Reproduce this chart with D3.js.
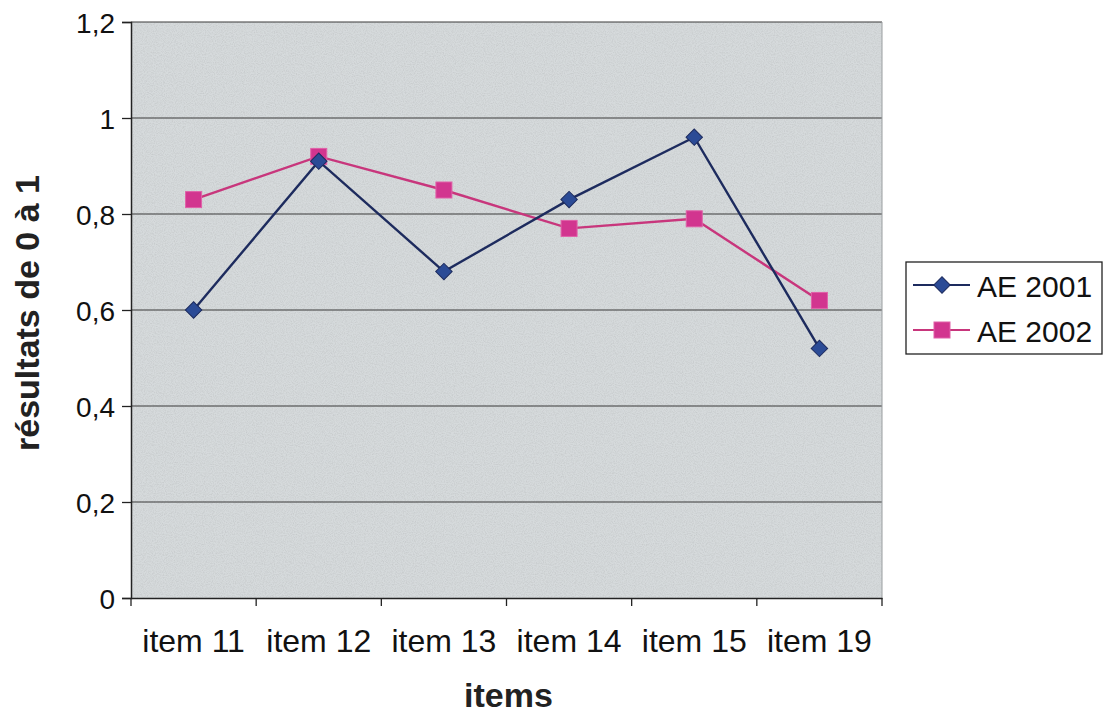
<!DOCTYPE html>
<html><head><meta charset="utf-8">
<script src="https://cdn.jsdelivr.net/npm/d3@7"></script>
<style>body{margin:0;background:#fff}svg{display:block}</style>
</head><body>
<svg id="c" width="1112" height="715"></svg>
<script>
const categories = ["item 11","item 12","item 13","item 14","item 15","item 19"];
const ae2001 = [0.60, 0.91, 0.68, 0.83, 0.96, 0.52];
const ae2002 = [0.83, 0.92, 0.85, 0.77, 0.79, 0.62];
const yTicks = [0, 0.2, 0.4, 0.6, 0.8, 1, 1.2];
const seriesNames = ["AE 2001", "AE 2002"];

const svg = d3.select("#c");
const L = 131, R = 882, T = 22, B = 598;
const font = "'Liberation Sans', Arial, sans-serif";

const x = d3.scaleBand().domain(categories).range([L, R]).padding(0);
const y = d3.scaleLinear().domain([0, 1.2]).range([B, T]);

const defs = svg.append("defs");
const f = defs.append("filter").attr("id","noise").attr("x",0).attr("y",0).attr("width","100%").attr("height","100%");
f.append("feTurbulence").attr("type","fractalNoise").attr("baseFrequency",0.9).attr("numOctaves",2).attr("seed",3).attr("result","t");
f.append("feColorMatrix").attr("in","t").attr("type","matrix")
  .attr("values","0 0 0 0 0.55  0 0 0 0 0.57  0 0 0 0 0.58  0 0 0 -1.6 1.0").attr("result","n");
f.append("feComposite").attr("in","n").attr("in2","SourceGraphic").attr("operator","in").attr("result","m");
f.append("feMerge").selectAll("feMergeNode").data(["SourceGraphic","m"]).join("feMergeNode").attr("in",d=>d);

svg.append("rect").attr("x",L).attr("y",T).attr("width",R-L).attr("height",B-T)
  .attr("fill","#d6dadc").attr("filter","url(#noise)");

svg.append("g").selectAll("line").data(yTicks.filter(d=>d>0)).join("line")
  .attr("x1",L).attr("x2",R).attr("y1",d=>y(d)).attr("y2",d=>y(d))
  .attr("stroke","#3a3a3a").attr("stroke-width",1.2);
svg.append("line").attr("x1",R).attr("x2",R).attr("y1",T).attr("y2",B).attr("stroke","#9a9ea0").attr("stroke-width",1);

const yAxis = d3.axisLeft(y).tickValues(yTicks).tickSize(9).tickPadding(7)
  .tickFormat(d => String(d).replace(".", ","));
const gy = svg.append("g").attr("transform",`translate(${L},0)`).call(yAxis);
gy.select(".domain").attr("stroke","#222").attr("stroke-width",1.5);
gy.selectAll(".tick line").attr("stroke","#222").attr("stroke-width",1.3);
gy.selectAll("text").attr("font-family",font).attr("font-size",28).attr("fill","#111").attr("dy","0.36em");

const xAxis = d3.axisBottom(x).tickSize(0).tickPadding(0);
const gx = svg.append("g").attr("transform",`translate(0,${B})`).call(xAxis);
gx.select(".domain").attr("stroke","#222").attr("stroke-width",1.5);
gx.selectAll("text").attr("font-family",font).attr("font-size",32).attr("fill","#111")
  .attr("dy",null).attr("y",54);
const bounds = categories.map(c => x(c)).concat([R]);
svg.append("g").selectAll("line").data(bounds).join("line")
  .attr("x1",d=>d).attr("x2",d=>d).attr("y1",B).attr("y2",B+8)
  .attr("stroke","#222").attr("stroke-width",1.3);

const cx = c => x(c) + x.bandwidth()/2;
const line = d3.line().x(d=>cx(d.c)).y(d=>y(d.v));
const d2001 = categories.map((c,i)=>({c, v: ae2001[i]}));
const d2002 = categories.map((c,i)=>({c, v: ae2002[i]}));

const pink = "#c8367c", pinkM = "#d2358f", blue = "#1d2b5e", blueM = "#2b4b96";

svg.append("path").datum(d2002).attr("d",line).attr("fill","none").attr("stroke",pink).attr("stroke-width",2.4);
svg.append("path").datum(d2001).attr("d",line).attr("fill","none").attr("stroke",blue).attr("stroke-width",2.4);

svg.append("g").selectAll("rect").data(d2002).join("rect")
  .attr("x",d=>cx(d.c)-8).attr("y",d=>y(d.v)-8).attr("width",16).attr("height",16)
  .attr("fill",pinkM).attr("stroke","#e060a8").attr("stroke-width",1);
const diamond = d3.symbol().type(d3.symbolSquare).size(135);
svg.append("g").selectAll("path").data(d2001).join("path")
  .attr("d",diamond).attr("transform",d=>`translate(${cx(d.c)},${y(d.v)}) rotate(45)`)
  .attr("fill",blueM).attr("stroke","#1d2b5e").attr("stroke-width",1);

svg.append("text").attr("x",(L+R)/2+2).attr("y",707).attr("text-anchor","middle")
  .attr("font-family",font).attr("font-weight","bold").attr("font-size",34).attr("fill","#222").text("items");
svg.append("text").attr("transform",`translate(39,${313}) rotate(-90)`).attr("text-anchor","middle")
  .attr("font-family",font).attr("font-weight","bold").attr("font-size",34).attr("fill","#222").text("résultats de 0 à 1");

const lg = svg.append("g");
lg.append("rect").attr("x",906).attr("y",262).attr("width",196).attr("height",92)
  .attr("fill","#fff").attr("stroke","#222").attr("stroke-width",1.3);
const ly = [285, 330];
seriesNames.forEach((n,i)=>{
  lg.append("line").attr("x1",913).attr("x2",970).attr("y1",ly[i]).attr("y2",ly[i])
    .attr("stroke",i===0?blue:pink).attr("stroke-width",2);
  if(i===0){
    lg.append("path").attr("d",diamond).attr("transform",`translate(942,${ly[i]}) rotate(45)`).attr("fill",blueM).attr("stroke",blue);
  } else {
    lg.append("rect").attr("x",934).attr("y",ly[i]-8).attr("width",16).attr("height",16).attr("fill",pinkM).attr("stroke","#e060a8");
  }
  lg.append("text").attr("x",977).attr("y",ly[i]+12).attr("font-family",font).attr("font-size",30).attr("fill","#111").text(n);
});
</script>
</body></html>
